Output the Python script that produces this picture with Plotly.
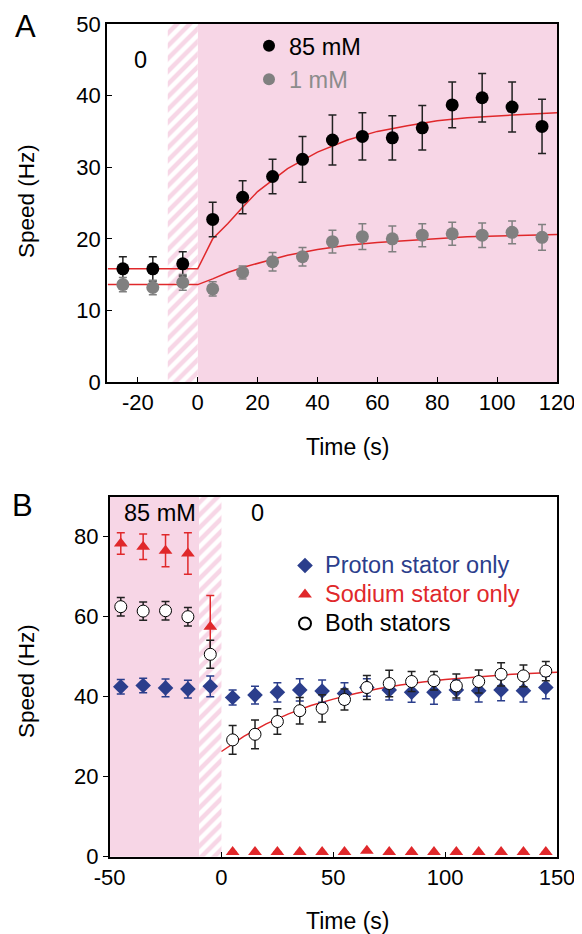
import plotly.graph_objects as go

# ---------------- Panel A data ----------------
a_time = [-25, -15, -5, 5, 15, 25, 35, 45, 55, 65, 75, 85, 95, 105, 115]
a_85 = [15.8, 15.8, 16.5, 22.7, 25.8, 28.7, 31.1, 33.8, 34.3, 34.1, 35.5, 38.7, 39.7, 38.4, 35.7]
a_85_err = [1.7, 1.7, 1.7, 2.4, 2.3, 2.4, 3.2, 3.5, 3.3, 3.1, 3.1, 3.2, 3.4, 3.5, 3.8]
a_1 = [13.6, 13.2, 13.9, 13.0, 15.3, 16.8, 17.5, 19.6, 20.3, 20.0, 20.5, 20.7, 20.5, 20.9, 20.2]
a_1_err = [1.0, 1.0, 1.1, 1.0, 0.9, 1.3, 1.3, 1.6, 1.8, 1.8, 1.6, 1.6, 1.7, 1.6, 1.8]

a_fit_t = [-30, 0, 5, 10, 15, 20, 30, 40, 50, 60, 70, 80, 90, 100, 110, 120]
a_fit_85 = [15.8, 15.8, 20.0, 22.1, 24.4, 26.6, 29.8, 32.1, 33.8, 35.0, 35.8, 36.5, 36.9, 37.2, 37.4, 37.6]
a_fit_1 = [13.6, 13.6, 14.4, 15.3, 16.0, 16.6, 17.7, 18.5, 19.1, 19.5, 19.8, 20.1, 20.3, 20.4, 20.5, 20.6]

# ---------------- Panel B data ----------------
b_time = [-45, -35, -25, -15, -5, 5, 15, 25, 35, 45, 55, 65, 75, 85, 95, 105, 115, 125, 135, 145]
b_proton = [42.5, 42.8, 42.2, 41.9, 42.6, 39.8, 40.4, 41.1, 41.7, 41.4, 40.8, 42.3, 41.7, 41.1, 41.1, 41.7, 41.5, 41.7, 41.5, 42.3]
b_proton_err = [1.8, 1.8, 2.2, 2.2, 2.6, 1.9, 2.2, 2.4, 2.8, 2.8, 2.7, 2.2, 2.5, 2.5, 3.0, 2.5, 2.8, 2.7, 2.8, 2.8]
b_sodium = [78.3, 77.5, 76.5, 75.8, 57.5, 1.2, 1.2, 1.2, 1.2, 1.2, 1.2, 1.5, 1.2, 1.2, 1.2, 1.2, 1.2, 1.2, 1.2, 1.2]
b_sodium_err = [2.7, 3.2, 4.0, 5.2, 7.8, 0, 0, 0, 0, 0, 0, 0, 0, 0, 0, 0, 0, 0, 0, 0]
b_both = [62.5, 61.4, 61.5, 60.0, 50.6, 29.2, 30.6, 33.8, 36.5, 37.1, 39.3, 42.3, 43.3, 43.8, 44.0, 42.7, 43.8, 45.6, 45.2, 46.4]
b_both_err = [2.3, 2.3, 2.3, 2.3, 3.5, 3.6, 3.6, 3.2, 3.3, 3.4, 2.6, 3.0, 3.3, 2.5, 2.3, 3.0, 2.9, 2.9, 2.7, 2.4]

b_fit_t = [0, 10, 20, 30, 40, 50, 60, 70, 80, 90, 100, 110, 120, 130, 140, 150]
b_fit = [26.3, 30.1, 33.2, 35.7, 37.8, 39.4, 40.8, 42.0, 42.9, 43.7, 44.3, 44.8, 45.2, 45.6, 45.8, 46.1]

a_xticks = [-20, 0, 20, 40, 60, 80, 100, 120]
a_yticks = [0, 10, 20, 30, 40, 50]
b_xticks = [-50, 0, 50, 100, 150]
b_yticks = [0, 20, 40, 60, 80]

PINK = "#F7D6E6"
RED = "#E0282B"
BLUE = "#2B3E8C"
GRAY = "#808080"
FONT = "Liberation Sans"

# the page body has an 8px margin; coordinates below are given in window pixels
OFF = 8
W, H = 582, 934

def px(x):
    return (x - OFF) / W

def py(y):
    return (H - (y - OFF)) / H

fig = go.Figure()

# hatched transition regions
fig.add_trace(go.Scatter(
    x=[-10, 0, 0, -10, -10], y=[0, 0, 50, 50, 0], mode="none", fill="toself",
    fillcolor=PINK,
    fillpattern=dict(shape="/", bgcolor=PINK, fgcolor="white", size=9, solidity=0.5),
    xaxis="x", yaxis="y", showlegend=False, hoverinfo="skip"))
fig.add_trace(go.Scatter(
    x=[-10, 0, 0, -10, -10], y=[0, 0, 90, 90, 0], mode="none", fill="toself",
    fillcolor=PINK,
    fillpattern=dict(shape="/", bgcolor=PINK, fgcolor="white", size=9, solidity=0.5),
    xaxis="x2", yaxis="y2", showlegend=False, hoverinfo="skip"))

# Panel A fits
fig.add_trace(go.Scatter(x=a_fit_t, y=a_fit_85, mode="lines", line=dict(color=RED, width=1.5),
                         xaxis="x", yaxis="y", showlegend=False, hoverinfo="skip"))
fig.add_trace(go.Scatter(x=a_fit_t, y=a_fit_1, mode="lines", line=dict(color=RED, width=1.5),
                         xaxis="x", yaxis="y", showlegend=False, hoverinfo="skip"))

# Panel A points
fig.add_trace(go.Scatter(
    x=a_time, y=a_85, mode="markers", name="85 mM",
    marker=dict(color="black", size=13),
    error_y=dict(type="data", array=a_85_err, color="#222222", thickness=1.5, width=4),
    xaxis="x", yaxis="y", legend="legend"))
fig.add_trace(go.Scatter(
    x=a_time, y=a_1, mode="markers", name="<span style='color:#8C8C8C'>1 mM</span>",
    marker=dict(color=GRAY, size=13),
    error_y=dict(type="data", array=a_1_err, color=GRAY, thickness=1.5, width=4),
    xaxis="x", yaxis="y", legend="legend"))

# Panel B fit
fig.add_trace(go.Scatter(x=b_fit_t, y=b_fit, mode="lines", line=dict(color=RED, width=1.5),
                         xaxis="x2", yaxis="y2", showlegend=False, hoverinfo="skip"))

# Panel B points
LEG_B = "font-size:23.5px;color:{}"
fig.add_trace(go.Scatter(
    x=b_time, y=b_proton, mode="markers",
    name=f"<span style='{LEG_B.format(BLUE)}'>Proton stator only</span>",
    marker=dict(color=BLUE, size=12, symbol="diamond"),
    error_y=dict(type="data", array=b_proton_err, color=BLUE, thickness=1.5, width=4),
    xaxis="x2", yaxis="y2", legend="legend2"))
fig.add_trace(go.Scatter(
    x=b_time, y=b_sodium, mode="markers",
    name=f"<span style='{LEG_B.format(RED)}'>Sodium stator only</span>",
    marker=dict(color=RED, size=12, symbol="triangle-up"),
    error_y=dict(type="data", array=b_sodium_err, color=RED, thickness=1.5, width=4),
    xaxis="x2", yaxis="y2", legend="legend2"))
fig.add_trace(go.Scatter(
    x=b_time, y=b_both, mode="markers",
    name=f"<span style='{LEG_B.format('black')}'>Both stators</span>",
    marker=dict(color="white", size=12, symbol="circle", line=dict(color="black", width=1)),
    error_y=dict(type="data", array=b_both_err, color="#222222", thickness=1.5, width=4),
    xaxis="x2", yaxis="y2", legend="legend2"))

axis_common = dict(showline=True, linecolor="black", linewidth=1.5, mirror=True,
                   ticks="inside", ticklen=5, tickwidth=1.2, tickcolor="black",
                   showgrid=False, zeroline=False, automargin=False,
                   tickfont=dict(family=FONT, size=22, color="black"))

def label(text, x, y, size, angle=0):
    return dict(text=text, x=px(x), y=py(y), xref="paper", yref="paper",
                xanchor="center", yanchor="middle", showarrow=False, textangle=angle,
                font=dict(family=FONT, size=size, color="black"))

fig.update_layout(
    template="none",
    width=W, height=H, autosize=False,
    margin=dict(l=0, r=0, t=0, b=0, pad=0, autoexpand=False),
    paper_bgcolor="white", plot_bgcolor="white",
    font=dict(family=FONT, color="black"),
    xaxis=dict(domain=[px(107), px(557)], range=[-30.3, 120], anchor="y",
               tickmode="array", tickvals=a_xticks, ticktext=[str(v) for v in a_xticks],
               **axis_common),
    yaxis=dict(domain=[py(382), py(24)], range=[0, 50], anchor="x",
               tickmode="array", tickvals=a_yticks, ticktext=[str(v) for v in a_yticks],
               **axis_common),
    xaxis2=dict(domain=[px(109.6), px(557)], range=[-50, 150], anchor="y2",
                tickmode="array", tickvals=b_xticks, ticktext=[str(v) for v in b_xticks],
                **axis_common),
    yaxis2=dict(domain=[py(856.7), py(496.7)], range=[0, 90], anchor="x2",
                tickmode="array", tickvals=b_yticks, ticktext=[str(v) for v in b_yticks],
                **{**axis_common, "ticks": "outside"}),
    legend=dict(x=px(249), y=py(24), xanchor="left", yanchor="top",
                bgcolor="rgba(0,0,0,0)", font=dict(family=FONT, size=23.5, color="black"),
                itemsizing="constant", tracegroupgap=0),
    legend2=dict(x=px(285), y=py(546), xanchor="left", yanchor="top",
                 bgcolor="rgba(0,0,0,0)", font=dict(family=FONT, size=20, color="black"),
                 itemsizing="constant", tracegroupgap=0),
    shapes=[
        dict(type="rect", xref="x", yref="y domain", x0=0, x1=120, y0=0, y1=1,
             fillcolor=PINK, line=dict(width=0), layer="below"),
        dict(type="rect", xref="x2", yref="y2 domain", x0=-50, x1=-10, y0=0, y1=1,
             fillcolor=PINK, line=dict(width=0), layer="below"),
    ],
    annotations=[
        label("A", 25, 26, 31),
        label("B", 22, 505, 31),
        label("Speed (Hz)", 26, 201, 22.5, -90),
        label("Speed (Hz)", 26, 681, 22.5, -90),
        label("Time (s)", 347, 447, 23),
        label("Time (s)", 347, 921, 23),
        label("0", 140, 60, 23.5),
        label("85 mM", 160, 513, 23.5),
        label("0", 257, 513, 23.5),
    ],
)

fig.write_html("out.html")
